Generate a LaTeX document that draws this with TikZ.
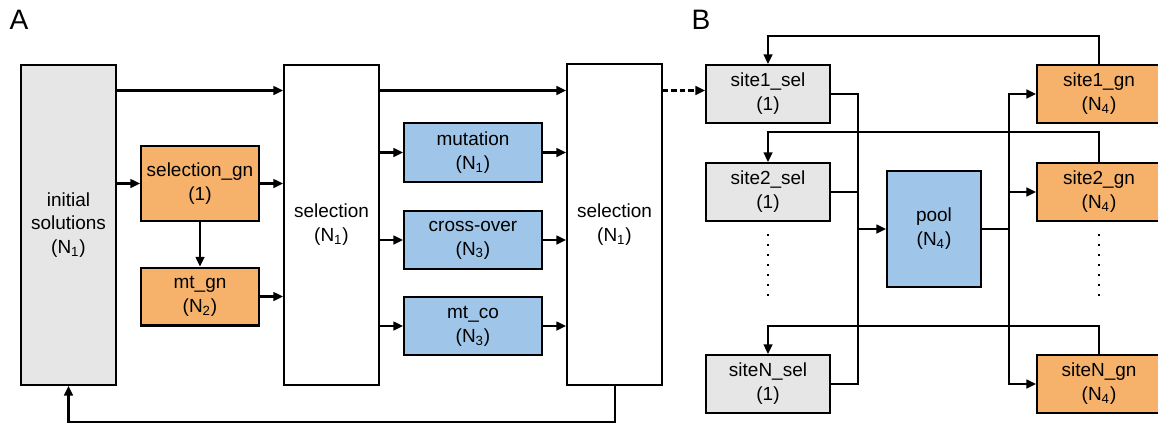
\documentclass[tikz,border=0pt]{standalone}
\usepackage{fontspec}
\setmainfont{Liberation Sans}
\usepackage{xcolor}
\usepackage{tikz}
\usetikzlibrary{arrows.meta, positioning, calc}
\definecolor{boxgrey}{RGB}{230, 230, 230}
\definecolor{boxorange}{RGB}{246, 178, 107}
\definecolor{boxblue}{RGB}{159, 197, 232}

\begin{document}
\begin{tikzpicture}[x=0.02cm, y=-0.02cm, >={Triangle[length=5.5pt, width=5pt]},
    line width=1.15pt,
    blk/.style={draw, line width=1.15pt, align=center, inner sep=0pt,
        font=\fontsize{10.8}{13.6}\selectfont},
    greyblk/.style={blk, fill=boxgrey},
    orangeblk/.style={blk, fill=boxorange},
    blueblk/.style={blk, fill=boxblue},
    panel/.style={font=\fontsize{16}{18}\selectfont, inner sep=0pt}]
    \clip (0,0) rectangle (1158,423);

    % panel A
    \node[panel] (labA) at (19,20) {A};
    \node[greyblk, minimum width=1.9cm, minimum height=6.4cm] (init) at (68.5,225) {initial\\solutions\\(N\textsubscript{1})};
    \node[orangeblk, minimum width=2.36cm, minimum height=1.5cm] (selgn) at (200,183.5) {selection\_gn\\(1)};
    \node[orangeblk, minimum width=2.36cm, minimum height=1.16cm] (mtgn) at (200,296.5) {mt\_gn\\(N\textsubscript{2})};
    \node[blk, minimum width=1.9cm, minimum height=6.4cm] (sel1) at (331.5,225) {selection\\(N\textsubscript{1})};
    \node[blueblk, minimum width=2.76cm, minimum height=1.18cm] (mut) at (473,152.5) {mutation\\(N\textsubscript{1})};
    \node[blueblk, minimum width=2.76cm, minimum height=1.16cm] (cross) at (473,240) {cross-over\\(N\textsubscript{3})};
    \node[blueblk, minimum width=2.76cm, minimum height=1.16cm] (mtco) at (473,326) {mt\_co\\(N\textsubscript{3})};
    \node[blk, minimum width=1.9cm, minimum height=6.42cm] (sel2) at (614.5,224.5) {selection\\(N\textsubscript{1})};
    \coordinate (toprow) at (0,90.5);

    \draw[->] (init.east |- toprow) -- (sel1.west |- toprow);
    \draw[->] (init.east |- selgn.west) -- (selgn.west);
    \draw[->] (selgn.east) -- (sel1.west |- selgn.east);
    \draw[->] (selgn.south) -- (mtgn.north);
    \draw[->] (mtgn.east) -- (sel1.west |- mtgn.east);
    \draw[->] (sel1.east |- toprow) -- (sel2.west |- toprow);
    \foreach \op in {mut, cross, mtco} {
        \draw[->] (sel1.east |- \op.west) -- (\op.west);
        \draw[->] (\op.east) -- (sel2.west |- \op.east);
    }
    \draw[->] (sel2.south) -- ++(0,36.5) -| (init.south);

    % panel B
    \node[panel] (labB) at (701,20) {B};
    \node[greyblk, minimum width=2.48cm, minimum height=1.16cm] (s1sel) at (768,94) {site1\_sel\\(1)};
    \node[greyblk, minimum width=2.48cm, minimum height=1.16cm] (s2sel) at (768,192) {site2\_sel\\(1)};
    \node[greyblk, minimum width=2.48cm, minimum height=1.16cm] (sNsel) at (768,384) {siteN\_sel\\(1)};
    \node[blueblk, minimum width=1.88cm, minimum height=2.32cm] (pool) at (934,229) {pool\\(N\textsubscript{4})};
    \node[orangeblk, minimum width=2.48cm, minimum height=1.16cm] (s1gn) at (1099,94) {site1\_gn\\(N\textsubscript{4})};
    \node[orangeblk, minimum width=2.48cm, minimum height=1.16cm] (s2gn) at (1099,192) {site2\_gn\\(N\textsubscript{4})};
    \node[orangeblk, minimum width=2.48cm, minimum height=1.16cm] (sNgn) at (1099,384) {siteN\_gn\\(N\textsubscript{4})};
    \coordinate (busL) at (858,0);
    \coordinate (busR) at (1009,0);

    \draw[->, dash pattern=on 3pt off 1.8pt] (sel2.east |- toprow) -- (s1sel.west |- toprow);
    \draw[->] (s1gn.north) -- ++(0,-28) -| (s1sel.north);
    \draw[->] (s2gn.north) -- ++(0,-30) -| (s2sel.north);
    \draw[->] (sNgn.north) -- ++(0,-28) -| (sNsel.north);
    \draw (s1sel.east) -| (busL |- sNsel.east) -- (sNsel.east);
    \draw (s2sel.east) -- (busL |- s2sel.east);
    \draw[->] (busL |- pool.west) -- (pool.west);
    \draw (pool.east) -- (busR |- pool.east);
    \draw[<->] (s1gn.west) -| (busR |- sNgn.west) -- (sNgn.west);
    \draw[->] (busR |- s2gn.west) -- (s2gn.west);
    \draw[line width=1.2pt, dash pattern=on 1.2pt off 4.5pt] ($(s2sel.south)+(0,12)$) -- ($(sNsel.north)+(0,-52)$);
    \draw[line width=1.2pt, dash pattern=on 1.2pt off 4.5pt] ($(s2gn.south)+(0,12)$) -- ($(sNgn.north)+(0,-52)$);
\end{tikzpicture}
\end{document}
